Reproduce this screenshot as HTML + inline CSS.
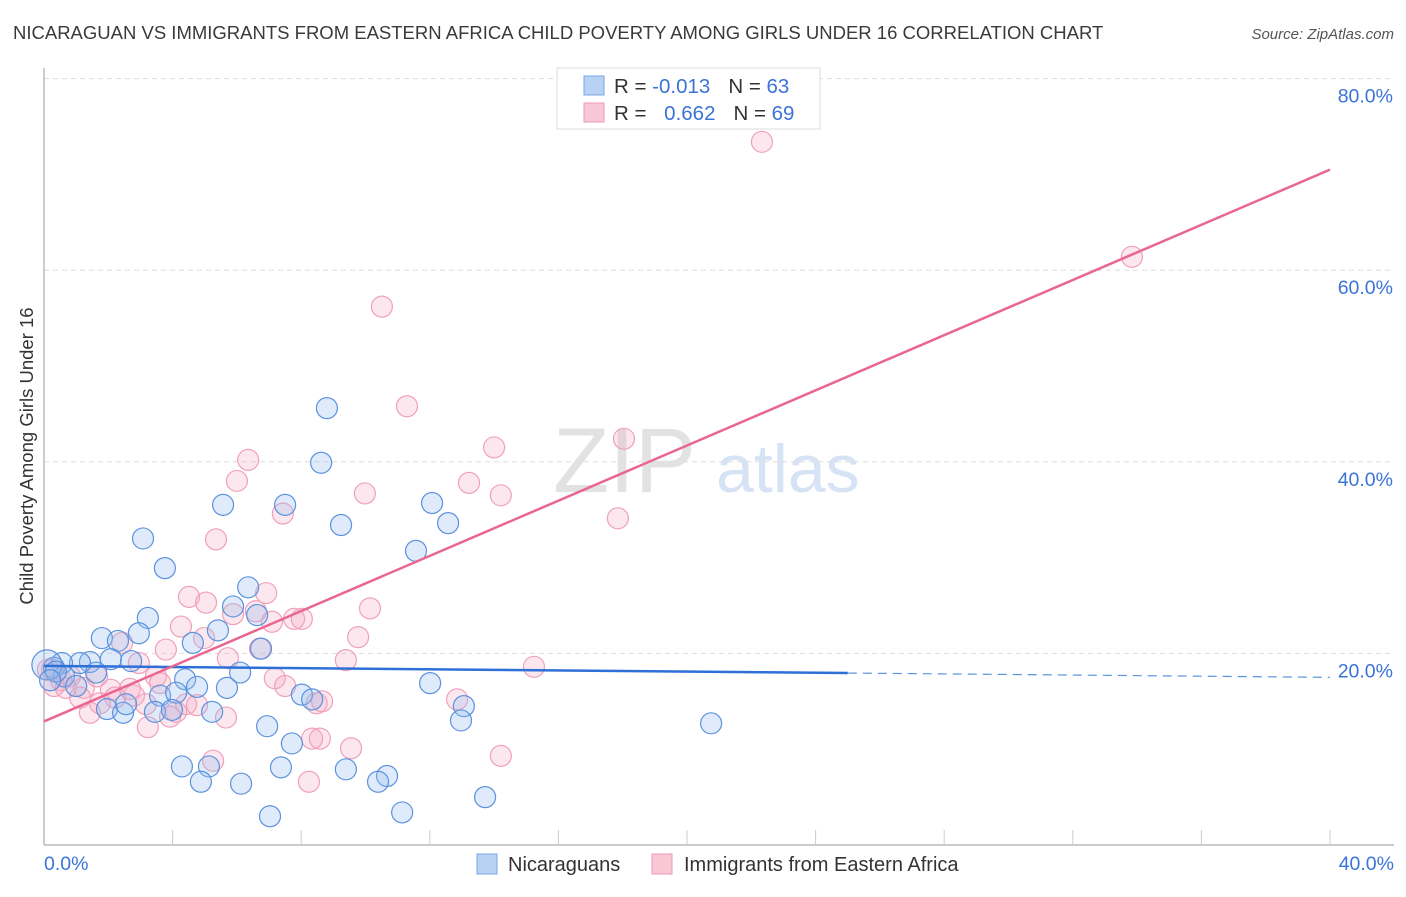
<!DOCTYPE html>
<html><head><meta charset="utf-8"><style>
body{margin:0;background:#fff;font-family:"Liberation Sans",sans-serif;}
svg text{font-family:"Liberation Sans",sans-serif;}
</style></head><body>
<svg id="chart" width="1406" height="892" viewBox="0 0 1406 892" xmlns="http://www.w3.org/2000/svg">
<text x="13" y="39" font-size="18.5" fill="#3a3a3a">NICARAGUAN VS IMMIGRANTS FROM EASTERN AFRICA CHILD POVERTY AMONG GIRLS UNDER 16 CORRELATION CHART</text>
<text x="1394" y="39" font-size="15" fill="#555" font-style="italic" text-anchor="end">Source: ZipAtlas.com</text>
<g>
<text x="553" y="492" font-size="92" font-family="Liberation Serif,serif" fill="#e2e2e2">ZIP</text>
<text x="716" y="492" font-size="68" fill="#d6e3f5">atlas</text>
</g>
<g id="grid"></g>
<g id="axes"></g>
<g id="marks"></g>
<text transform="translate(33,456) rotate(-90)" font-size="18.5" fill="#333" text-anchor="middle">Child Poverty Among Girls Under 16</text>
<g>
<rect x="557" y="68" width="263" height="61" fill="#fff" stroke="#ddd"/>
<rect x="584" y="76" width="20" height="19" fill="#b8d2f4" stroke="#7aa6e4"/>
<rect x="584" y="103" width="20" height="19" fill="#f9c6d6" stroke="#ee9ab5"/>
<text x="614" y="93" font-size="20.5" fill="#333">R = <tspan fill="#3b73d6">-0.013</tspan><tspan dx="18">N = </tspan><tspan fill="#3b73d6">63</tspan></text>
<text x="614" y="120" font-size="20.5" fill="#333">R = <tspan fill="#3b73d6" dx="12">0.662</tspan><tspan dx="18">N = </tspan><tspan fill="#3b73d6">69</tspan></text>
</g>
<g>
<rect x="477" y="854" width="20" height="20" fill="#b8d2f4" stroke="#7aa6e4"/>
<text x="508" y="871" font-size="20" fill="#333">Nicaraguans</text>
<rect x="652" y="854" width="20" height="20" fill="#f9c6d6" stroke="#ee9ab5"/>
<text x="684" y="871" font-size="20" fill="#333">Immigrants from Eastern Africa</text>
</g>
</svg>
<script>
const blueX=[8.80,8.62,5.57,7.50,9.24,12.07,12.57,3.08,11.57,3.76,6.35,5.88,6.63,3.23,2.95,1.80,2.30,5.41,4.63,6.75,2.08,1.43,1.12,0.56,2.71,0.31,6.10,4.39,0.62,1.62,1.00,3.61,4.11,4.76,5.69,8.02,8.34,12.01,13.06,12.97,1.96,2.46,2.55,3.45,3.98,5.23,6.94,7.71,20.75,4.29,5.13,7.37,9.39,10.67,10.39,4.88,6.13,13.72,11.14,7.03,0.09,0.37,0.19];
const blueY=[45.6,39.9,35.5,35.5,33.4,35.7,33.6,32.0,30.7,28.9,26.9,24.9,24.0,23.7,22.1,21.6,21.3,22.4,21.1,20.5,19.4,19.1,19.0,19.0,19.2,18.5,18.0,17.3,17.6,18.0,16.6,15.6,15.9,16.5,16.4,15.7,15.2,16.9,14.5,13.0,14.2,13.8,14.7,13.9,14.1,13.9,12.4,10.6,12.7,8.2,8.2,8.1,7.9,7.2,6.6,6.6,6.4,5.0,3.4,3.0,18.8,18.1,17.2];
const pinkX=[22.33,33.84,10.51,11.29,18.04,14.00,6.35,6.00,13.22,9.98,14.21,7.43,17.85,5.35,4.51,5.04,6.91,5.88,6.59,10.14,4.26,4.98,7.78,8.02,7.09,9.77,2.43,3.79,6.72,2.95,5.72,9.39,15.24,3.48,7.18,0.12,0.53,0.81,1.24,1.65,2.08,2.67,3.61,7.50,1.12,2.21,1.74,2.80,3.17,4.11,4.42,4.76,5.66,8.48,8.65,12.85,1.43,3.92,3.23,8.34,8.58,9.55,5.26,14.21,8.24,0.31,0.25,0.68];
const pinkY=[73.4,61.4,56.2,45.8,42.4,41.5,40.2,38.0,37.8,36.7,36.5,34.6,34.1,31.9,25.9,25.3,26.3,24.1,24.4,24.7,22.8,21.6,23.6,23.6,23.3,21.7,21.1,20.4,20.5,19.0,19.5,19.3,18.6,17.6,17.4,18.3,17.2,17.6,16.4,17.6,16.2,16.3,16.9,16.6,15.4,15.4,14.8,15.6,14.7,13.9,14.7,14.6,13.3,14.8,15.0,15.2,13.8,13.4,12.3,11.1,11.1,10.1,8.8,9.3,6.6,16.6,18.3,16.4];
const blueTrend=[18.7,17.5];
const pinkTrend=[12.9,70.5];
const blueSolidEnd=25;
const yTicks=[20,40,60,80];
const xTickLabels=["0.0%","40.0%"];

const NS="http://www.w3.org/2000/svg";
const sx=v=>44+v*32.15, sy=v=>845-v*9.58;
function mk(tag,attrs,parent){const e=document.createElementNS(NS,tag);for(const k in attrs)e.setAttribute(k,attrs[k]);parent.appendChild(e);return e;}
const grid=document.getElementById('grid'),axes=document.getElementById('axes'),marks=document.getElementById('marks');
yTicks.forEach(t=>{
  const l=mk('line',{x1:44,x2:1394,y1:sy(t),y2:sy(t),stroke:'#ddd','stroke-dasharray':'5,4'},grid);
  
  
  const tx=mk('text',{x:1393,y:sy(t)+24,'font-size':19.5,fill:'#3b73d6','text-anchor':'end'},axes);
  tx.textContent=t.toFixed(1)+'%';
  
  
});
let ax=mk('line',{x1:44,x2:1394,y1:845,y2:845,stroke:'#bbb','stroke-width':1.5},axes);


let ay=mk('line',{x1:44,x2:44,y1:68,y2:845,stroke:'#bbb','stroke-width':1.5},axes);


for(let i=1;i<=10;i++){
  const t=mk('line',{x1:sx(i*4),x2:sx(i*4),y1:830,y2:845,stroke:'#ccc'},axes);
  
  
}
const xl0=mk('text',{x:44,y:870,'font-size':19.5,fill:'#3b73d6'},axes);xl0.textContent=xTickLabels[0];


const xl1=mk('text',{x:1394,y:870,'font-size':19.5,fill:'#3b73d6','text-anchor':'end'},axes);xl1.textContent=xTickLabels[1];



pinkX.forEach((x,i)=>{
  const c=mk('circle',{cx:sx(x),cy:sy(pinkY[i]),r:10.5,fill:'rgba(246,168,194,0.28)',stroke:'#f0a0bb','stroke-width':1.2},marks);
  
  
});
blueX.forEach((x,i)=>{
  const c=mk('circle',{cx:sx(x),cy:sy(blueY[i]),r:i==60?15:10.5,fill:'rgba(150,190,240,0.3)',stroke:'#5b92dd','stroke-width':1.2},marks);
  
  
});
const by=x=>blueTrend[0]+(blueTrend[1]-blueTrend[0])*x/40;
let bl=mk('line',{x1:sx(0),y1:sy(by(0)),x2:sx(blueSolidEnd),y2:sy(by(blueSolidEnd)),stroke:'#2f6fd8','stroke-width':2.5},marks);


let bd=mk('line',{x1:sx(blueSolidEnd),y1:sy(by(blueSolidEnd)),x2:sx(40),y2:sy(by(40)),stroke:'#5b92dd','stroke-width':1.2,'stroke-dasharray':'9,6'},marks);


let pl=mk('line',{x1:sx(0),y1:sy(pinkTrend[0]),x2:sx(40),y2:sy(pinkTrend[1]),stroke:'#e8668f','stroke-width':2.5},marks);


</script>
</body></html>
